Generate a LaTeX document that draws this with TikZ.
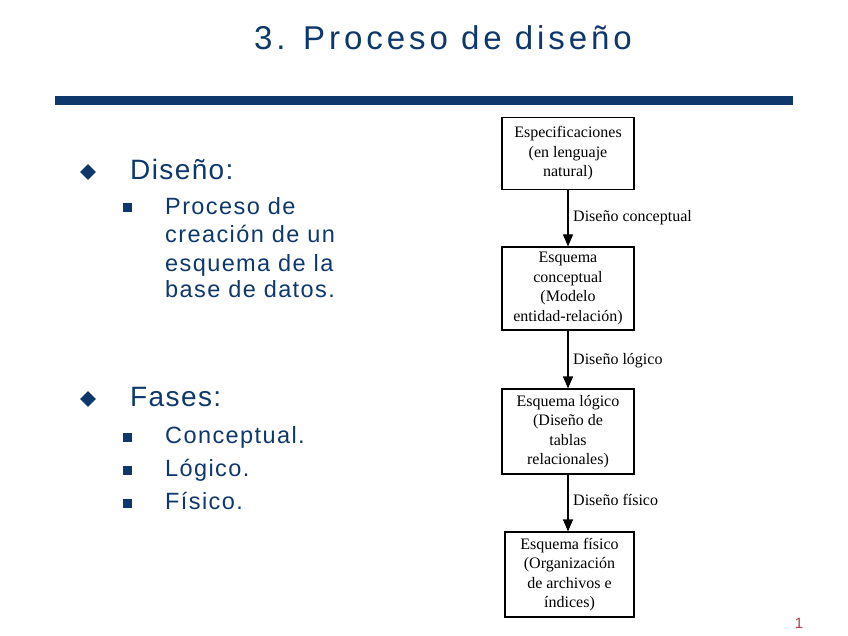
\documentclass[tikz,border=0pt]{standalone}
\usepackage{fontspec}
\setmainfont{Liberation Serif}
\newfontfamily\arialf{Liberation Sans}
\usetikzlibrary{arrows.meta,shapes.geometric}
\definecolor{navy}{RGB}{14,56,108}
\definecolor{pgred}{RGB}{176,64,72}
\tikzset{
  boxnode/.style={draw=black, line width=1.2pt, align=center, font=\fontsize{16}{19.5}\selectfont, minimum width=132pt, inner sep=0pt},
  flow/.style={draw=black, line width=1.2pt, -{Triangle[length=12pt,width=10pt]}},
  flowlabel/.style={font=\fontsize{16}{19}\selectfont, anchor=base west, inner sep=0pt},
  titletext/.style={font=\arialf\addfontfeatures{LetterSpace=12}\fontsize{33}{38}\selectfont, text=navy, anchor=base, inner sep=0pt},
  lvlone/.style={font=\arialf\addfontfeatures{LetterSpace=5}\fontsize{28}{32}\selectfont, text=navy, anchor=base west, inner sep=0pt},
  lvltwo/.style={font=\arialf\addfontfeatures{LetterSpace=6}\fontsize{23.5}{28}\selectfont, text=navy, anchor=base west, inner sep=0pt},
  dbullet/.style={diamond, fill=navy, minimum size=16pt, inner sep=0pt},
  sbullet/.style={rectangle, fill=navy, minimum size=9pt, inner sep=0pt},
}
\begin{document}
\begin{tikzpicture}[x=1pt,y=-1pt]
\useasboundingbox (0,0) rectangle (848,636);
% title and rule
\node[titletext] (title) at (443,50) {3. Proceso de diseño};
\fill[navy] (55,96) rectangle (793,105);
% bullets
\node[dbullet] (d1) at (88,172) {};
\node[lvlone] (t1) at (130,180) {Diseño:};
\node[sbullet] (s1) at (127,208) {};
\node[lvltwo] (p1) at (165,215) {Proceso de};
\node[lvltwo] (p2) at (165,243) {creación de un};
\node[lvltwo] (p3) at (165,271) {esquema de la};
\node[lvltwo] (p4) at (165,298) {base de datos.};
\node[dbullet] (d2) at (88,399) {};
\node[lvlone] (t2) at (130,406) {Fases:};
\node[sbullet] (s2) at (127,437) {};
\node[lvltwo] (f1) at (165,443) {Conceptual.};
\node[sbullet] (s3) at (127,470) {};
\node[lvltwo] (f2) at (165,476) {Lógico.};
\node[sbullet] (s4) at (127,503) {};
\node[lvltwo] (f3) at (165,509) {Físico.};
% flow
\node[boxnode, minimum height=72pt] (b1) at (568,153.5) {Especificaciones\\(en lenguaje\\natural)};
\node[boxnode, minimum height=83pt] (b2) at (568,288.5) {Esquema\\conceptual\\(Modelo\\entidad-relación)};
\node[boxnode, minimum height=85pt] (b3) at (568,431.5) {Esquema lógico\\(Diseño de\\tablas\\relacionales)};
\node[boxnode, minimum height=85pt, minimum width=129pt] (b4) at (569.5,574.5) {Esquema físico\\(Organización\\de archivos e\\índices)};
\draw[flow] (b1.south) -- (b2.north);
\draw[flow] (b2.south) -- (b3.north);
\draw[flow] (b3.south) -- (b3.south |- b4.north);
\node[flowlabel] (l1) at (573,222) {Diseño conceptual};
\node[flowlabel] (l2) at (573,364) {Diseño lógico};
\node[flowlabel] (l3) at (573,505) {Diseño físico};
% page number
\node[font=\arialf\fontsize{15}{17}\selectfont, text=pgred, anchor=base, inner sep=0pt] (pg) at (799,628) {1};
\end{tikzpicture}
\end{document}
